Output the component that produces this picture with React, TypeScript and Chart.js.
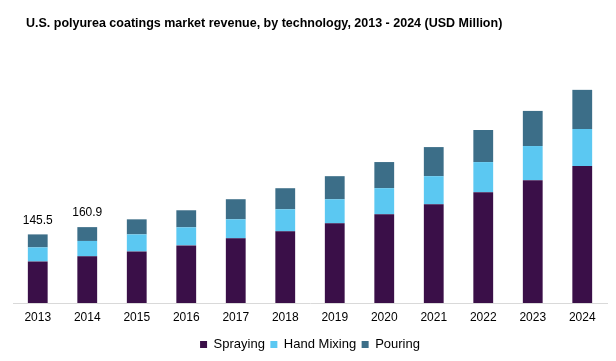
import React, { useEffect, useRef } from "react";
import { Chart, registerables } from "chart.js";

Chart.register(...registerables);

const years = ["2013", "2014", "2015", "2016", "2017", "2018", "2019", "2020", "2021", "2022", "2023", "2024"];
const spraying = [88.2, 99.0, 109.4, 122.2, 137.1, 151.9, 168.9, 188.1, 209.3, 234.8, 260.3, 290.1];
const handMixing = [29.8, 32.6, 36.1, 38.3, 40.4, 46.8, 51.0, 55.3, 59.5, 63.8, 72.3, 78.6];
const pouring = [27.5, 29.3, 31.9, 36.1, 42.5, 44.6, 48.9, 55.3, 61.6, 68.0, 74.4, 82.9];
const totalLabels = ["145.5", "160.9", "", "", "", "", "", "", "", "", "", ""];
const titleText = "U.S. polyurea coatings market revenue, by technology, 2013 - 2024 (USD Million)";

const FONT = "'Liberation Sans', Arial, sans-serif";

const textPlugin = {
  id: "texts",
  afterDatasetsDraw(chart: any) {
    const ctx = chart.ctx;
    const x = chart.scales.x;
    const y = chart.scales.y;
    ctx.save();
    ctx.font = `12px ${FONT}`;
    ctx.fillStyle = "#000";
    ctx.textAlign = "center";
    ctx.textBaseline = "bottom";
    totalLabels.forEach((t, i) => {
      if (!t) return;
      const total = spraying[i] + handMixing[i] + pouring[i];
      ctx.fillText(t, x.getPixelForValue(i), y.getPixelForValue(total) - 8);
    });
    ctx.font = `bold 12.5px ${FONT}`;
    ctx.textAlign = "left";
    ctx.textBaseline = "middle";
    ctx.fillText(titleText, 26, 24);
    ctx.restore();
  },
};

export default function App() {
  const ref = useRef<HTMLCanvasElement>(null);
  useEffect(() => {
    document.body.style.margin = "0";
    const chart = new Chart(ref.current!, {
      type: "bar",
      data: {
        labels: years,
        datasets: [
          { label: "Spraying", data: spraying, backgroundColor: "#3a0f48" },
          { label: "Hand Mixing", data: handMixing, backgroundColor: "#5bc8f2" },
          { label: "Pouring", data: pouring, backgroundColor: "#3c6e88" },
        ],
      },
      options: {
        animation: false,
        responsive: false,
        layout: { padding: { left: 13, right: 9, top: 50, bottom: 0 } },
        datasets: { bar: { barPercentage: 0.4, categoryPercentage: 1 } },
        plugins: {
          title: { display: false },
          legend: {
            position: "bottom",
            labels: {
              color: "#000",
              font: { family: FONT, size: 13, lineHeight: 1 },
              boxWidth: 7,
              boxHeight: 7,
              padding: 5.5,
            },
          },
          tooltip: { enabled: false },
        },
        scales: {
          x: {
            stacked: true,
            grid: { display: false, drawTicks: false },
            border: { display: true, color: "#d9d9d9", width: 1 },
            ticks: { color: "#000", font: { family: FONT, size: 12 }, padding: 7.5, maxRotation: 0 },
          },
          y: {
            stacked: true,
            display: false,
            min: 0,
            max: 536,
          },
        },
      },
      plugins: [textPlugin],
    });
    return () => chart.destroy();
  }, []);
  return (
    <div style={{ position: "absolute", left: 0, top: 0, width: 616, height: 361, background: "#fff" }}>
      <canvas ref={ref} width={616} height={361} style={{ width: 616, height: 361 }} />
    </div>
  );
}
